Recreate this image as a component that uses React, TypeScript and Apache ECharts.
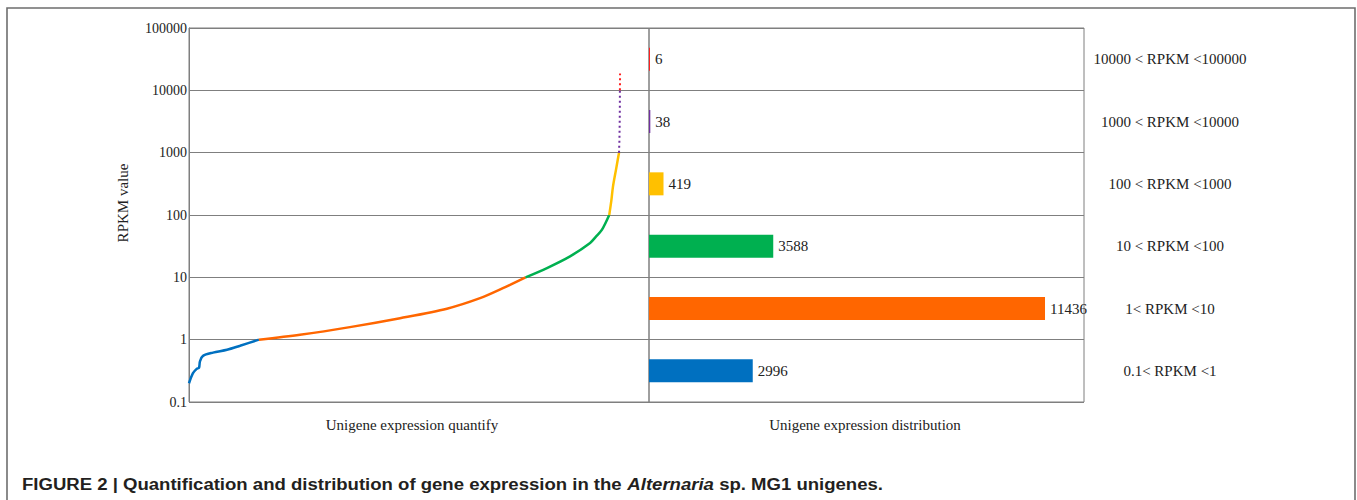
import React, { useEffect, useRef } from "react";
import * as echarts from "echarts";

// ---- data ----
const rangeLabels = [
  "10000 < RPKM <100000",
  "1000 < RPKM <10000",
  "100 < RPKM <1000",
  "10 < RPKM <100",
  "1< RPKM <10",
  "0.1< RPKM <1",
];
const unigeneCounts = [6, 38, 419, 3588, 11436, 2996];
const rangeColors = ["#ff2020", "#7030a0", "#ffc000", "#00b050", "#ff6600", "#0070c0"];

// sorted expression curve: [unigene rank, RPKM]
const blueCurve = [
  [0, 0.2], [170, 0.29], [330, 0.34], [430, 0.355], [470, 0.45], [600, 0.55],
  [1030, 0.62], [1630, 0.69], [2190, 0.8], [2996, 1.0],
];
const orangeCurve = [
  [2996, 1.0], [4760, 1.2], [6900, 1.59], [9050, 2.21], [11060, 3.14],
  [12480, 4.63], [13460, 6.7], [14432, 10],
];
const greenCurve = [
  [14432, 10], [15350, 14.1], [16340, 21.7], [17200, 35.6], [17450, 44.9], [17710, 58.2], [18020, 100],
];
const yellowCurve = [[18020, 100], [18110, 170], [18180, 285], [18320, 560], [18439, 1000]];
const purpleCurve = [
  [18439, 1000], [18455, 1500], [18465, 2500], [18472, 4000], [18476, 7000], [18477, 10000],
];
const redCurve = [[18477, 10000], [18480, 12000], [18482, 13500], [18483, 18600]];

const SERIF = "'Liberation Serif', 'Times New Roman', serif";
const SANS = "'Liberation Sans', Arial, sans-serif";
const GRID_COLOR = "#7f7f7f";

export default function App() {
  const ref = useRef<HTMLDivElement>(null);

  useEffect(() => {
    if (!ref.current) return;
    const chart = echarts.init(ref.current, undefined, { renderer: "svg" });

    const curve = (data: number[][], color: string, dotted = false) => ({
      type: "line",
      xAxisIndex: 0,
      yAxisIndex: 0,
      data,
      symbol: "none",
      smooth: dotted ? false : 0.3,
      lineStyle: dotted
        ? { color, width: 2, type: [2, 3] }
        : { color, width: 2.5 },
      z: 3,
    });

    chart.setOption({
      animation: false,
      backgroundColor: "#ffffff",
      grid: [
        { left: 189, top: 28, width: 460, height: 374, show: true, borderColor: GRID_COLOR, borderWidth: 1 },
        { left: 649, top: 28, width: 435, height: 374, show: true, borderColor: GRID_COLOR, borderWidth: 1 },
      ],
      xAxis: [
        { gridIndex: 0, type: "value", min: 0, max: 19725, show: false },
        { gridIndex: 1, type: "value", min: 0, max: 12562, show: false },
      ],
      yAxis: [
        {
          gridIndex: 0,
          type: "log",
          logBase: 10,
          min: 0.1,
          max: 100000,
          splitNumber: 6,
          axisLine: { show: true, lineStyle: { color: GRID_COLOR } },
          axisTick: { show: false },
          axisLabel: {
            margin: 2,
            color: "#222",
            fontSize: 14,
            fontFamily: SERIF,
            formatter: (v: number) => String(Number(v.toPrecision(6))),
          },
          splitLine: { show: true, lineStyle: { color: GRID_COLOR, width: 1 } },
        },
        {
          gridIndex: 1,
          type: "category",
          position: "right",
          inverse: true,
          data: rangeLabels,
          axisLine: { show: false },
          axisTick: { show: false },
          axisLabel: {
            margin: 86,
            align: "center",
            color: "#222",
            fontSize: 15,
            fontFamily: SERIF,
          },
          splitLine: { show: true, interval: 0, lineStyle: { color: GRID_COLOR, width: 1 } },
        },
      ],
      series: [
        curve(blueCurve, "#0070c0"),
        curve(orangeCurve, "#ff6600"),
        curve(greenCurve, "#00b050"),
        curve(yellowCurve, "#ffc000"),
        curve(purpleCurve, "#7030a0", true),
        curve(redCurve, "#ff2020", true),
        {
          type: "bar",
          xAxisIndex: 1,
          yAxisIndex: 1,
          barWidth: 23,
          barMinHeight: 1,
          data: unigeneCounts.map((v, i) => ({ value: v, itemStyle: { color: rangeColors[i] } })),
          label: {
            show: true,
            position: "right",
            distance: 5,
            color: "#222",
            fontSize: 15,
            fontFamily: SERIF,
          },
          z: 3,
        },
      ],
      graphic: [
        {
          type: "rect",
          shape: { x: 7, y: 8, width: 1348, height: 520 },
          style: { fill: "none", stroke: "#6e6e6e", lineWidth: 1.6 },
          silent: true,
        },
        {
          type: "text",
          x: 123,
          y: 203,
          rotation: Math.PI / 2,
          style: {
            text: "RPKM value",
            fill: "#222",
            font: `15px ${SERIF}`,
            align: "center",
            verticalAlign: "middle",
            textAlign: "center",
            textVerticalAlign: "middle",
          },
        },
        {
          type: "text",
          x: 412,
          y: 425,
          style: {
            text: "Unigene expression quantify",
            fill: "#222",
            font: `15px ${SERIF}`,
            align: "center",
            verticalAlign: "middle",
            textAlign: "center",
            textVerticalAlign: "middle",
          },
        },
        {
          type: "text",
          x: 865,
          y: 425,
          style: {
            text: "Unigene expression distribution",
            fill: "#222",
            font: `15px ${SERIF}`,
            align: "center",
            verticalAlign: "middle",
            textAlign: "center",
            textVerticalAlign: "middle",
          },
        },
        {
          type: "text",
          x: 22,
          y: 484,
          scaleX: 1.16,
          style: {
            text: "{b|FIGURE 2 | Quantification and distribution of gene expression in the }{bi|Alternaria}{b| sp. MG1 unigenes.}",
            verticalAlign: "middle",
            textVerticalAlign: "middle",
            rich: {
              b: { fontSize: 16, fontWeight: "bold", fontFamily: SANS, fill: "#231f20" },
              bi: { fontSize: 16, fontWeight: "bold", fontStyle: "italic", fontFamily: SANS, fill: "#231f20" },
            },
          },
        },
      ],
    });

    return () => chart.dispose();
  }, []);

  return (
    <div
      ref={ref}
      style={{ position: "absolute", left: 0, top: 0, width: 1357, height: 500, background: "#fff" }}
    />
  );
}
